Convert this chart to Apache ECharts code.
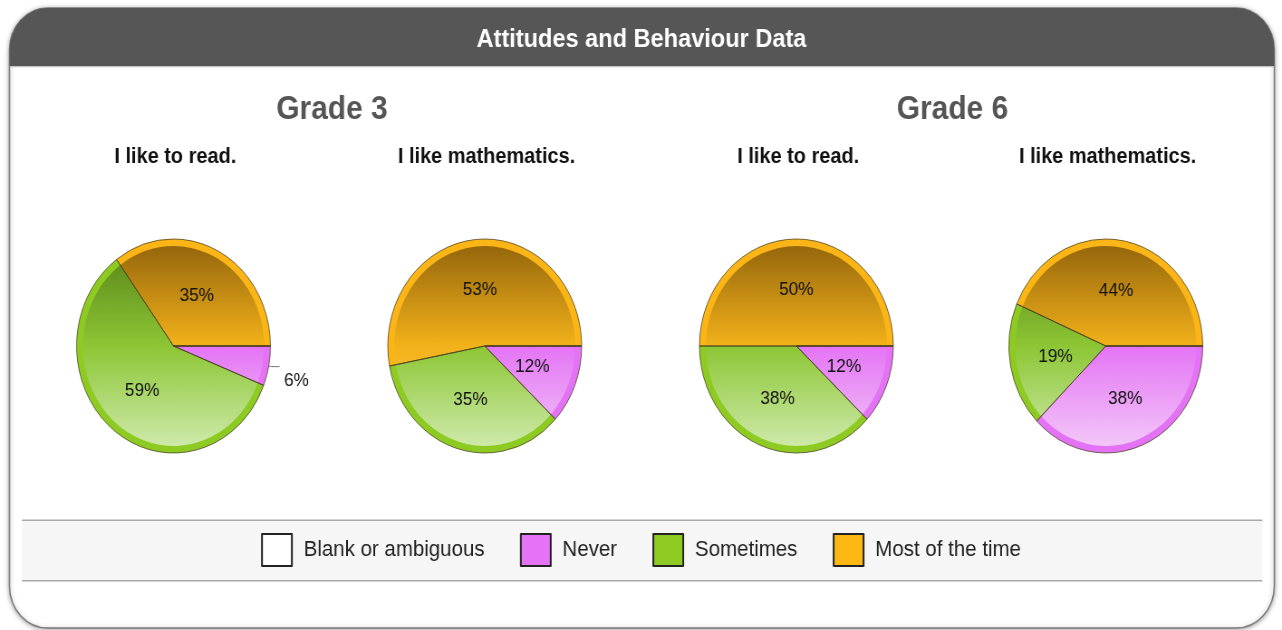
<!DOCTYPE html>
<html>
<head>
<meta charset="utf-8">
<script src="https://cdn.jsdelivr.net/npm/echarts@6/dist/echarts.min.js"></script>
<style>
html,body{margin:0;padding:0;background:#fff;overflow:hidden;width:1282px;height:630px;}
#chart{width:1415px;height:630px;transform:scaleX(0.906007);transform-origin:0 0;}
</style>
</head>
<body>
<div id="chart"></div>
<script>
// ---- data ----
const mainTitle = 'Attitudes and Behaviour Data';
const gradeTitles = ['Grade 3', 'Grade 6'];
const questionTitles = ['I like to read.', 'I like mathematics.', 'I like to read.', 'I like mathematics.'];
const categories = ['Blank or ambiguous', 'Never', 'Sometimes', 'Most of the time'];
const grade3Read = [0, 6, 59, 35];
const grade3Math = [0, 12, 35, 53];
const grade6Read = [0, 12, 38, 50];
const grade6Math = [0, 38, 19, 44];
const pieValues = [grade3Read, grade3Math, grade6Read, grade6Math];

// ---- styles ----
const FONT = 'Liberation Sans, Arial, sans-serif';
const legendColors = ['#ffffff', '#e474f5', '#8ecb22', '#fdb814'];
const rimColors = ['#ffffff', '#e373f4', '#8ecb22', '#fbb516'];
const gradStops = [
  [['#ffffff', 0], ['#ffffff', 1]],
  [['#b040c8', 0], ['#e474f5', 0.5], ['#f4ccf9', 1]],
  [['#557f18', 0], ['#8cc634', 0.5], ['#d2ecb2', 1]],
  [['#8f620b', 0], ['#f3b21a', 0.5], ['#fbd060', 1]]
];
const pieCentersX = [191.5, 535, 879, 1220.5];
const gradeCentersX = [366.4, 1051.3];
const CY = 346, R = 107, RIM = 7;
const drawOrder = [3, 2, 1, 0]; // counter-clockwise from 3 o'clock

function makePie(values, cx) {
  const center = [cx, CY];
  const base = {
    type: 'pie', center: center, startAngle: 0, clockwise: false,
    animation: false, emphasis: { disabled: true }, avoidLabelOverlap: false,
    label: { show: false }, labelLine: { show: false }, silent: true
  };
  const rim = Object.assign({}, base, {
    radius: [0, R], z: 2,
    data: drawOrder.map(i => ({ name: categories[i], value: values[i], itemStyle: { color: rimColors[i] } }))
  });
  const inner = Object.assign({}, base, {
    radius: [0, R - RIM], z: 3,
    data: drawOrder.map(i => ({
      name: categories[i], value: values[i],
      itemStyle: { color: {
        type: 'linear', x: 0, y: CY - R, x2: 0, y2: CY + R, global: true,
        colorStops: gradStops[i].map(s => ({ color: s[0], offset: s[1] }))
      } }
    }))
  });
  const outline = Object.assign({}, base, {
    radius: [0, R], z: 4,
    itemStyle: { color: 'rgba(0,0,0,0)', borderColor: 'rgba(70,60,30,0.75)', borderWidth: 1 },
    label: {
      show: true, position: 'inside', color: '#111', fontSize: 19, fontFamily: FONT,
      formatter: p => (p.value ? p.value + '%' : '')
    },
    data: drawOrder.map(i => {
      const d = { name: categories[i], value: values[i] };
      if (values[i] > 0 && values[i] < 8) {
        d.label = { position: 'outside', lineHeight: 28, color: '#111',
          formatter: p => '\n' + p.value + '%' };
        d.labelLine = { show: true, length: 3, length2: 9, lineStyle: { color: '#777', width: 1 } };
      }
      return d;
    })
  });
  return [rim, inner, outline];
}

const series = [];
pieValues.forEach((v, k) => series.push(...makePie(v, pieCentersX[k])));

const titles = [{
  text: mainTitle, left: 708, top: 27, textAlign: 'center', padding: 0,
  textStyle: { color: '#ffffff', fontSize: 26, fontWeight: 'bold', fontFamily: FONT }
}];
gradeTitles.forEach((t, k) => titles.push({
  text: t, left: gradeCentersX[k], top: 93, textAlign: 'center', padding: 0,
  textStyle: { color: '#555555', fontSize: 33, fontWeight: 'bold', fontFamily: FONT }
}));
questionTitles.forEach((t, k) => titles.push({
  text: t, left: pieCentersX[k] + 2, top: 146, textAlign: 'center', padding: 0,
  textStyle: { color: '#111111', fontSize: 22, fontWeight: 'bold', fontFamily: FONT }
}));

const chart = echarts.init(document.getElementById('chart'), null, { width: 1415, height: 630 });
chart.setOption({
  backgroundColor: '#ffffff',
  animation: false,
  title: titles,
  legend: {
    left: 'center', top: 533, padding: 0, itemWidth: 33, itemHeight: 32, itemGap: 39,
    icon: 'rect', selectedMode: false,
    itemStyle: { borderColor: '#222', borderWidth: 2 },
    textStyle: { fontSize: 22.6, color: '#222', fontFamily: FONT, padding: [0, 0, 0, 8] },
    data: categories.map((c, i) => ({ name: c, itemStyle: { color: legendColors[i] } }))
  },
  graphic: [
    { type: 'rect', z: -10, shape: { x: 10.5, y: 8, width: 1396, height: 620, r: 42 },
      style: { fill: '#ffffff', stroke: '#7a7a7a', lineWidth: 1.5, shadowBlur: 5, shadowColor: 'rgba(0,0,0,0.35)', shadowOffsetY: 1 } },
    { type: 'rect', z: -9, shape: { x: 10.5, y: 8, width: 1396, height: 58, r: [42, 42, 0, 0] },
      style: { fill: '#565656' } },
    { type: 'rect', z: -9, shape: { x: 11.3, y: 66, width: 1394.4, height: 1.2 },
      style: { fill: '#c4c4c4' } },
    { type: 'rect', z: -9, shape: { x: 24.3, y: 520, width: 1369, height: 60 },
      style: { fill: '#f6f6f6' } },
    { type: 'rect', z: -8, shape: { x: 24.3, y: 519.5, width: 1369, height: 1.5 },
      style: { fill: '#a8a8a8' } },
    { type: 'rect', z: -8, shape: { x: 24.3, y: 580, width: 1369, height: 1.5 },
      style: { fill: '#a8a8a8' } }
  ],
  series: series
});
</script>
</body>
</html>
